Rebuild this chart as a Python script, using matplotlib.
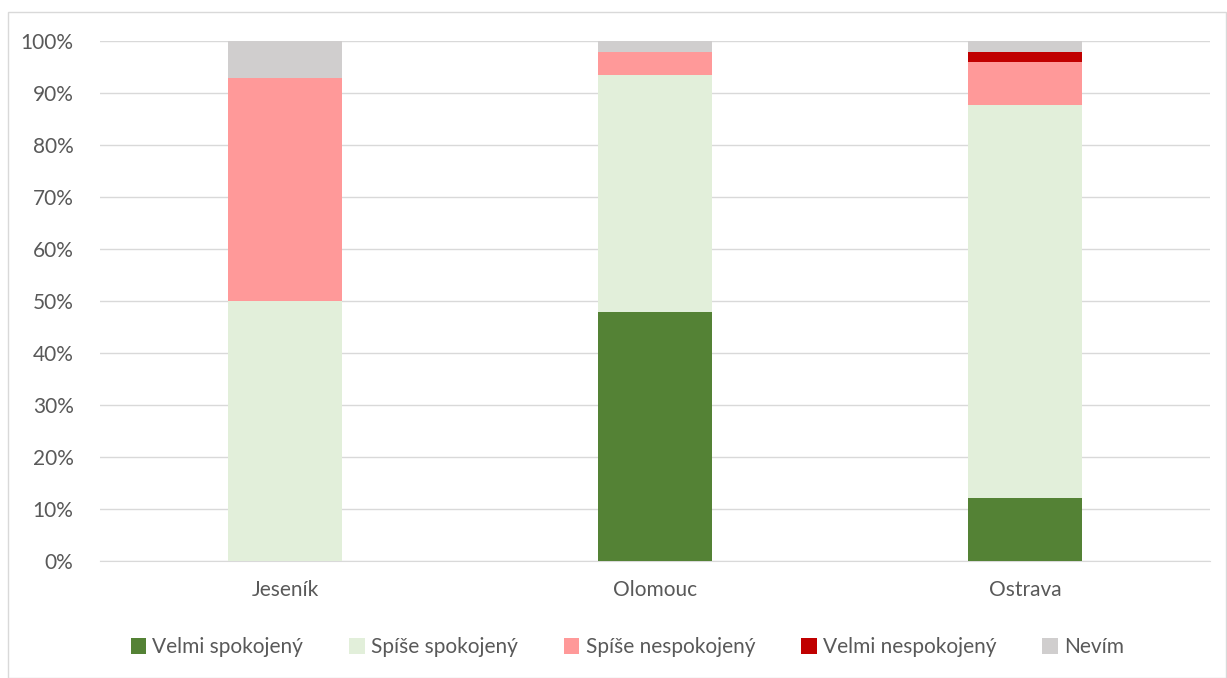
import numpy as np
import matplotlib.pyplot as plt
from matplotlib.patches import Rectangle

plt.rcParams['font.family'] = ['Lato', 'DejaVu Sans']

cities = ["Jeseník", "Olomouc", "Ostrava"]
series = ["Velmi spokojený", "Spíše spokojený", "Spíše nespokojený",
          "Velmi nespokojený", "Nevím"]
velmi_spok = [0.0, 47.8, 12.2]
spise_spok = [50.0, 45.7, 75.5]
spise_nesp = [42.9, 4.3, 8.2]
velmi_nesp = [0.0, 0.0, 2.0]
nevim = [7.1, 2.2, 2.1]
values = [velmi_spok, spise_spok, spise_nesp, velmi_nesp, nevim]
colors = ["#548235", "#E2EFDA", "#FF9999", "#C00000", "#D0CECE"]

fig = plt.figure(figsize=(12.27, 6.78), dpi=100)
fig.patches.append(Rectangle((8 / 1227, 0.0), 1 - 9 / 1227, 1 - 12 / 678,
                             transform=fig.transFigure, fill=False,
                             edgecolor="#D9D9D9", linewidth=1))
ax = fig.add_axes([100 / 1227, 1 - 561 / 678, 1110 / 1227, 520 / 678])

x = np.arange(len(cities))
bottom = np.zeros(len(cities))
for name, vals, col in zip(series, values, colors):
    vals = np.array(vals)
    ax.bar(x, vals, width=0.31, bottom=bottom, color=col, label=name, zorder=3)
    bottom += vals

ax.set_xlim(-0.5, 2.5)
ax.set_ylim(0, 100)
ax.set_yticks(np.arange(0, 101, 10))
ax.set_yticklabels([f"{v}%" for v in range(0, 101, 10)])
ax.set_xticks(x)
ax.set_xticklabels(cities)
ax.yaxis.grid(True, color="#D9D9D9", linewidth=1, zorder=0)
for s in ["top", "right", "left"]:
    ax.spines[s].set_visible(False)
ax.spines["bottom"].set_color("#D9D9D9")
ax.tick_params(axis="both", length=0, labelsize=15, colors="#595959")
ax.tick_params(axis="y", pad=19)
ax.tick_params(axis="x", pad=14)

ax.legend(loc="center", bbox_to_anchor=(0.475, -0.166), ncol=5,
          frameon=False, fontsize=15, handlelength=0.75, handleheight=0.75,
          handletextpad=0.3, columnspacing=2.2, labelcolor="#595959")

fig.savefig("out.png", dpi=100)
